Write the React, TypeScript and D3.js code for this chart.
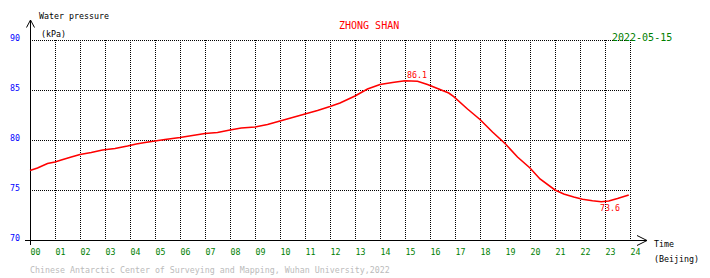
import React from "react";
import * as d3 from "d3";

const hours = [0.0, 0.3, 0.7, 1.0, 1.25, 1.65, 2.0, 2.45, 2.9, 3.4, 3.9, 4.25, 4.6, 5.0, 5.4, 6.0, 6.5, 7.0, 7.5, 8.0, 8.45, 9.0, 9.5, 10.0, 10.5, 11.0, 11.5, 12.0, 12.4, 13.0, 13.5, 14.0, 14.5, 15.0, 15.5, 15.9, 16.4, 16.75, 16.95, 17.5, 18.0, 18.5, 19.0, 19.5, 20.0, 20.4, 21.0, 21.35, 21.75, 22.1, 22.5, 22.85, 23.15, 23.5, 23.95];
const pressure = [76.95, 77.2, 77.65, 77.8, 78.0, 78.3, 78.55, 78.75, 79.0, 79.15, 79.4, 79.6, 79.75, 79.9, 80.05, 80.25, 80.45, 80.65, 80.75, 81.0, 81.2, 81.3, 81.55, 81.9, 82.25, 82.6, 82.95, 83.35, 83.7, 84.4, 85.1, 85.55, 85.75, 85.93, 85.88, 85.55, 85.05, 84.7, 84.33, 83.1, 82.05, 80.8, 79.65, 78.3, 77.2, 76.1, 75.0, 74.6, 74.3, 74.07, 73.93, 73.83, 73.9, 74.15, 74.5];

const yTicks = [70, 75, 80, 85, 90];
const xTicks = ["00", "01", "02", "03", "04", "05", "06", "07", "08", "09", "10", "11", "12", "13", "14", "15", "16", "17", "18", "19", "20", "21", "22", "23", "24"];

const maxLabel = { hour: 15.08, value: 86.1 };
const minLabel = { hour: 22.8, value: 73.6 };

const stationName = "ZHONG SHAN";
const dateLabel = "2022-05-15";
const footer = "Chinese Antarctic Center of Surveying and Mapping, Wuhan University,2022";

export default function App() {
  const x = d3.scaleLinear().domain([0, 24]).range([30, 630]);
  const y = d3.scaleLinear().domain([70, 90]).range([240, 40]);
  const data = hours.map((h, i) => [h, pressure[i]] as [number, number]);
  const line = d3.line<[number, number]>().x((d) => x(d[0])).y((d) => y(d[1]));
  const mono = "'DejaVu Sans Mono', monospace";
  const small = 8.3;

  return (
    <svg
      width={710}
      height={278}
      style={{ position: "absolute", left: 0, top: 0, background: "#fff" }}
      fontFamily={mono}
    >
      <rect x={0} y={0} width={710} height={278} fill="#fff" />
      {/* grid */}
      {yTicks.slice(1).map((v) => (
        <line key={"h" + v} x1={30} x2={630} y1={Math.round(y(v)) + 0.5} y2={Math.round(y(v)) + 0.5}
          stroke="#000" strokeDasharray="1,1" shapeRendering="crispEdges" />
      ))}
      {xTicks.slice(1).map((t, i) => (
        <line key={"v" + t} x1={Math.round(x(i + 1)) + 0.5} x2={Math.round(x(i + 1)) + 0.5} y1={40} y2={240}
          stroke="#000" strokeDasharray="1,1" shapeRendering="crispEdges" />
      ))}
      {/* axes */}
      <line x1={30.5} x2={30.5} y1={20} y2={245} stroke="#000" shapeRendering="crispEdges" />
      <polyline points="26.5,27.5 30.5,20 34.5,27.5" fill="none" stroke="#000" />
      <line x1={25} x2={647} y1={240.5} y2={240.5} stroke="#000" shapeRendering="crispEdges" />
      <polyline points="637,235.5 647,240.5 637,245.5" fill="none" stroke="#000" />
      {/* y tick labels */}
      {yTicks.map((v) => (
        <text key={"yl" + v} x={10} y={y(v) + 0.5} fontSize={small} fill="#0000ff">{v}</text>
      ))}
      {/* x tick labels */}
      {xTicks.map((t, i) => (
        <text key={"xl" + t} x={x(i) + 0.5} y={255} fontSize={small} fill="#008000">{t}</text>
      ))}
      {/* data */}
      <path d={line(data) || ""} fill="none" stroke="#ff0000" strokeWidth={1.6} />
      <text x={x(maxLabel.hour)} y={y(maxLabel.value) - 0.7} fontSize={small} fill="#ff0000">{maxLabel.value.toFixed(1)}</text>
      <text x={x(minLabel.hour)} y={y(minLabel.value) + 7} fontSize={small} fill="#ff0000">{minLabel.value.toFixed(1)}</text>
      {/* titles */}
      <text x={39} y={18.5} fontSize={small} fill="#000">Water pressure</text>
      <text x={41} y={36.5} fontSize={small} fill="#000">(kPa)</text>
      <text x={339} y={28.7} fontSize={10} fill="#ff0000">{stationName}</text>
      <text x={612} y={40.7} fontSize={10} fill="#008000">{dateLabel}</text>
      <text x={654} y={246.5} fontSize={small} fill="#000">Time</text>
      <text x={654} y={262} fontSize={small} fill="#000">(Beijing)</text>
      <text x={30} y={272.5} fontSize={small} fill="#bbbbbb">{footer}</text>
    </svg>
  );
}
